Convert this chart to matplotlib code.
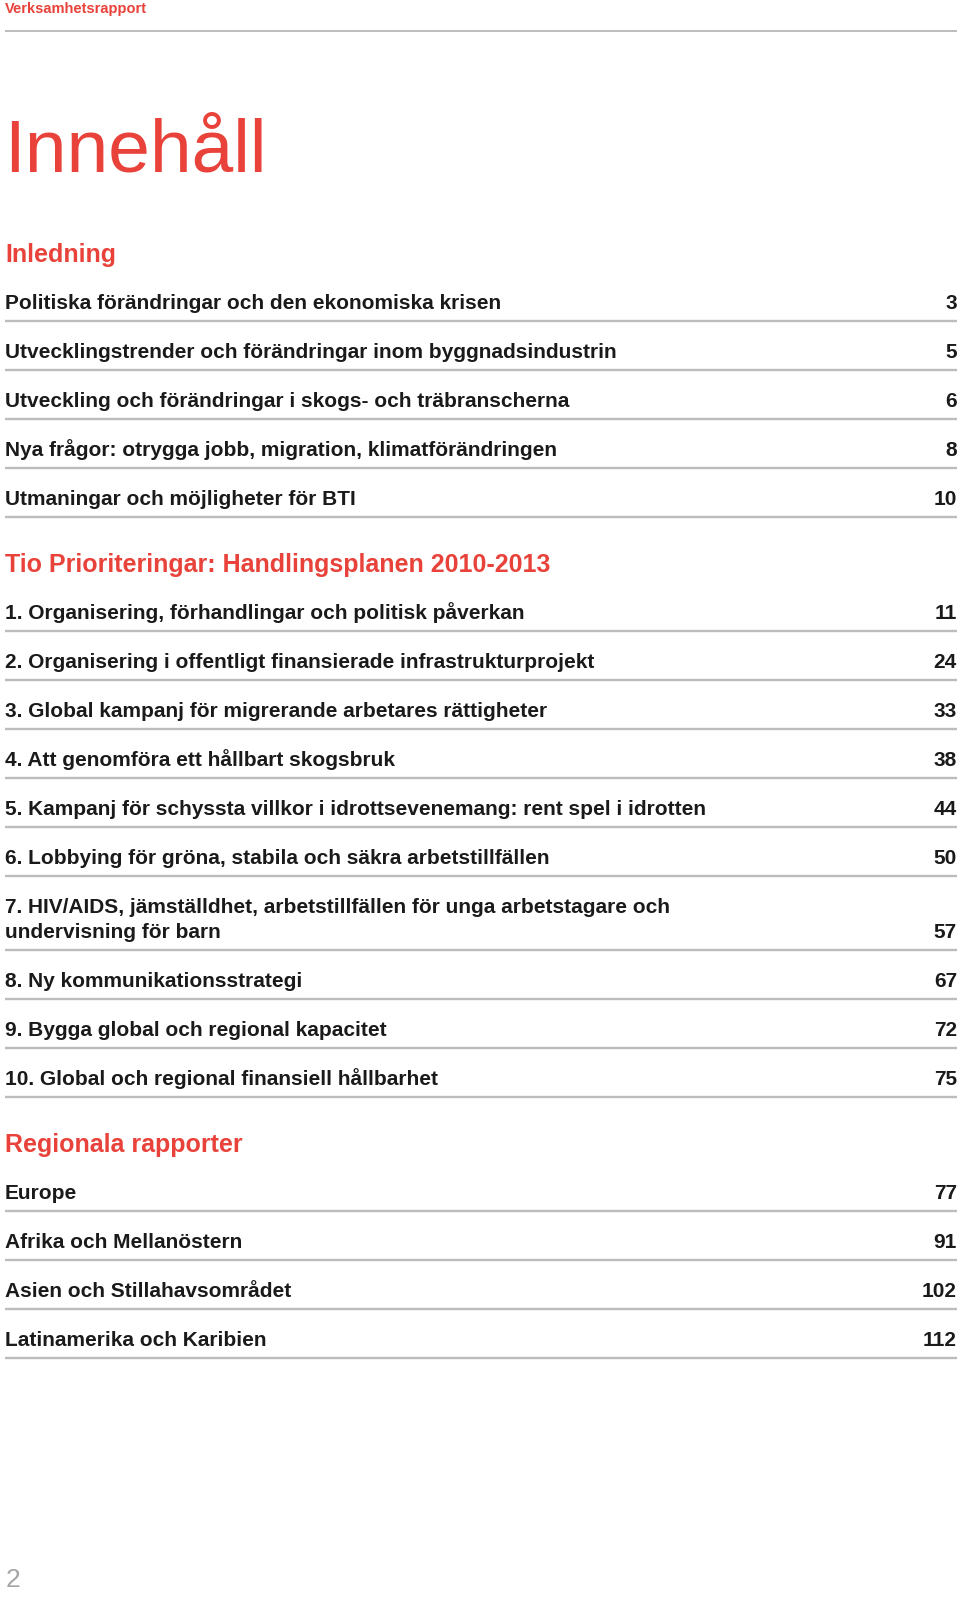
import matplotlib
matplotlib.use("Agg")
import matplotlib.pyplot as plt

header_text = "Verksamhetsrapport"
title_text = "Innehåll"
page_label = "2"

section_titles = [
    "Inledning",
    "Tio Prioriteringar: Handlingsplanen 2010-2013",
    "Regionala rapporter",
]

section1_items = [
    "Politiska förändringar och den ekonomiska krisen",
    "Utvecklingstrender och förändringar inom byggnadsindustrin",
    "Utveckling och förändringar i skogs- och träbranscherna",
    "Nya frågor: otrygga jobb, migration, klimatförändringen",
    "Utmaningar och möjligheter för BTI",
]
section1_pages = [3, 5, 6, 8, 10]

section2_items = [
    "1. Organisering, förhandlingar och politisk påverkan",
    "2. Organisering i offentligt finansierade infrastrukturprojekt",
    "3. Global kampanj för migrerande arbetares rättigheter",
    "4. Att genomföra ett hållbart skogsbruk",
    "5. Kampanj för schyssta villkor i idrottsevenemang: rent spel i idrotten",
    "6. Lobbying för gröna, stabila och säkra arbetstillfällen",
    "7. HIV/AIDS, jämställdhet, arbetstillfällen för unga arbetstagare och\nundervisning för barn",
    "8. Ny kommunikationsstrategi",
    "9. Bygga global och regional kapacitet",
    "10. Global och regional finansiell hållbarhet",
]
section2_pages = [11, 24, 33, 38, 44, 50, 57, 67, 72, 75]

section3_items = [
    "Europe",
    "Afrika och Mellanöstern",
    "Asien och Stillahavsområdet",
    "Latinamerika och Karibien",
]
section3_pages = [77, 91, 102, 112]

sections = [
    (section_titles[0], section1_items, section1_pages),
    (section_titles[1], section2_items, section2_pages),
    (section_titles[2], section3_items, section3_pages),
]

RED = "#e8423a"
GRAY_LINE = "#bcbcbc"
TEXT = "#1a1a1a"
FONT = ["Liberation Sans", "DejaVu Sans"]

W, H = 960, 1597
fig = plt.figure(figsize=(W / 100, H / 100), dpi=100)
ax = fig.add_axes([0, 0, 1, 1])
ax.set_xlim(0, W)
ax.set_ylim(H, 0)
ax.axis("off")

LEFT, RIGHT = 5, 957
ROW_FS = 15

# header
ax.text(LEFT, 12.5, header_text, color=RED, fontsize=10.5, fontweight="bold",
        family=FONT, ha="left", va="baseline")
ax.plot([LEFT, RIGHT], [31, 31], color=GRAY_LINE, lw=1.4, solid_capstyle="butt")

# title
ax.text(LEFT - 1, 172, title_text, color=RED, fontsize=54, family=FONT,
        ha="left", va="baseline")

ROW_STEP = 49
LINE_STEP2 = 25
heading_base = 262
for si, (stitle, items, pages) in enumerate(sections):
    ax.text(LEFT, heading_base, stitle, color=RED, fontsize=18, fontweight="bold",
            family=FONT, ha="left", va="baseline")
    line_y = heading_base + 59 - ROW_STEP
    for item, page in zip(items, pages):
        nlines = item.count("\n") + 1
        line_y += ROW_STEP + (nlines - 1) * LINE_STEP2
        base = line_y - 12
        for k, part in enumerate(item.split("\n")):
            ax.text(LEFT, base - (nlines - 1 - k) * LINE_STEP2, part, color=TEXT,
                    fontsize=ROW_FS, fontweight="bold", family=FONT,
                    ha="left", va="baseline")
        ax.text(RIGHT, base, str(page), color=TEXT, fontsize=ROW_FS, fontweight="bold",
                family=FONT, ha="right", va="baseline")
        ax.plot([LEFT, RIGHT], [line_y, line_y], color=GRAY_LINE, lw=1.7,
                solid_capstyle="butt")
    heading_base = line_y + 55

# page number
ax.text(LEFT + 1, 1587, page_label, color="#a6a6a6", fontsize=19,
        family=FONT, ha="left", va="baseline")

fig.savefig("out.png", dpi=100, facecolor="white")
